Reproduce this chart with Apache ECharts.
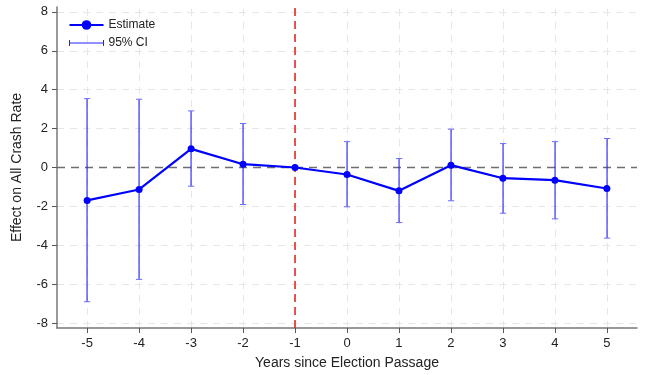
<!DOCTYPE html>
<html><head><meta charset="utf-8">
<script src="https://cdn.jsdelivr.net/npm/echarts@6/dist/echarts.min.js"></script>
<style>html,body{margin:0;padding:0;background:#fff}#c{width:645px;height:375px}</style>
</head><body><div id="c"></div>
<script>
const years = [-5, -4, -3, -2, -1, 0, 1, 2, 3, 4, 5];
const estimate = [-1.69, -1.13, 0.96, 0.17, 0.0, -0.36, -1.20, 0.12, -0.55, -0.65, -1.08];
const ciLow = [-6.90, -5.75, -0.96, -1.90, null, -2.02, -2.83, -1.71, -2.35, -2.64, -3.63];
const ciHigh = [3.54, 3.51, 2.91, 2.26, null, 1.33, 0.46, 1.97, 1.23, 1.33, 1.49];
const yTicks = [-8, -6, -4, -2, 0, 2, 4, 6, 8];
const xTicks = years;

const font = 'Liberation Sans, Arial, sans-serif';
const chart = echarts.init(document.getElementById('c'));
const ciData = years.map((x, i) => [x, ciLow[i], ciHigh[i]]).filter(d => d[1] !== null);
const gridMarks = [];
xTicks.forEach(v => gridMarks.push({xAxis: v, lineStyle: {color: '#e6e6e6', type: [7, 6], width: 1}}));
yTicks.forEach(v => { if (v !== 0) gridMarks.push({yAxis: v, lineStyle: {color: '#e6e6e6', type: [7, 6], width: 1}}); });
const ciColor = '#2222ff';

chart.setOption({
  animation: false,
  grid: {left: 57, right: 8, top: 7, bottom: 47},
  legend: {
    orient: 'vertical', left: 67, top: 19, padding: 0, itemGap: 6, itemWidth: 34, itemHeight: 12,
    textStyle: {fontFamily: font, fontSize: 12, color: '#222'},
    data: [
      {name: 'Estimate', itemStyle: {color: '#0000ff'}},
      {name: '95% CI', icon: 'path://M0,3 L0,9 M0,6 L34,6 M34,3 L34,9', itemStyle: {color: 'none', borderColor: ciColor, borderWidth: 1}}
    ]
  },
  xAxis: {
    type: 'value', min: -5.58, max: 5.58,
    name: 'Years since Election Passage', nameLocation: 'middle', nameGap: 28,
    nameTextStyle: {fontFamily: font, fontSize: 14, color: '#222'},
    axisLine: {onZero: false, lineStyle: {color: '#777', width: 1.5}},
    axisTick: {show: true, length: 5, customValues: xTicks, lineStyle: {color: '#555'}},
    axisLabel: {customValues: xTicks, fontFamily: font, fontSize: 13, color: '#222', margin: 9},
    splitLine: {show: false}
  },
  yAxis: {
    type: 'value', min: -8.25, max: 8.25,
    name: 'Effect on All Crash Rate', nameLocation: 'middle', nameGap: 33,
    nameTextStyle: {fontFamily: font, fontSize: 14, color: '#222'},
    axisLine: {show: true, onZero: false, lineStyle: {color: '#777', width: 1.5}},
    axisTick: {show: true, length: 5, customValues: yTicks, lineStyle: {color: '#555'}},
    axisLabel: {customValues: yTicks, fontFamily: font, fontSize: 13, color: '#222', margin: 9},
    splitLine: {show: false}
  },
  series: [
    {
      name: 'grid', type: 'line', data: [], z: 0, silent: true,
      markLine: {z: 0, silent: true, symbol: 'none', label: {show: false}, data: gridMarks, animation: false}
    },
    {
      name: 'refs', type: 'line', data: [], z: 1, silent: true,
      markLine: {z: 1, silent: true, symbol: 'none', label: {show: false}, animation: false, data: [
        {yAxis: 0, lineStyle: {color: '#6e6e6e', type: [8, 6], width: 1.3}},
        {xAxis: -1, lineStyle: {color: '#e0201a', type: [8, 5], width: 1.5}}
      ]}
    },
    {
      name: '95% CI', type: 'custom', z: 3,
      itemStyle: {color: ciColor},
      data: ciData,
      encode: {x: 0, y: [1, 2]},
      renderItem: function (params, api) {
        const lo = api.coord([api.value(0), api.value(1)]);
        const hi = api.coord([api.value(0), api.value(2)]);
        const hw = 3;
        const x = Math.round(lo[0]);
        return {type: 'group', children: [
          {type: 'rect', shape: {x: x - 0.5, y: hi[1], width: 1.1, height: lo[1] - hi[1]}, style: {fill: '#2020ff', stroke: null}},
          {type: 'rect', shape: {x: x - hw, y: lo[1] - 0.5, width: 2 * hw + 0.2, height: 1}, style: {fill: '#6a6aff', stroke: null}},
          {type: 'rect', shape: {x: x - hw, y: hi[1] - 0.5, width: 2 * hw + 0.2, height: 1}, style: {fill: '#6a6aff', stroke: null}}
        ]};
      }
    },
    {
      name: 'Estimate', type: 'line', z: 4,
      data: years.map((x, i) => [x, estimate[i]]),
      symbol: 'circle', symbolSize: 7,
      lineStyle: {color: '#0000ff', width: 2.2},
      itemStyle: {color: '#0000ff'}
    }
  ]
});
</script></body></html>
